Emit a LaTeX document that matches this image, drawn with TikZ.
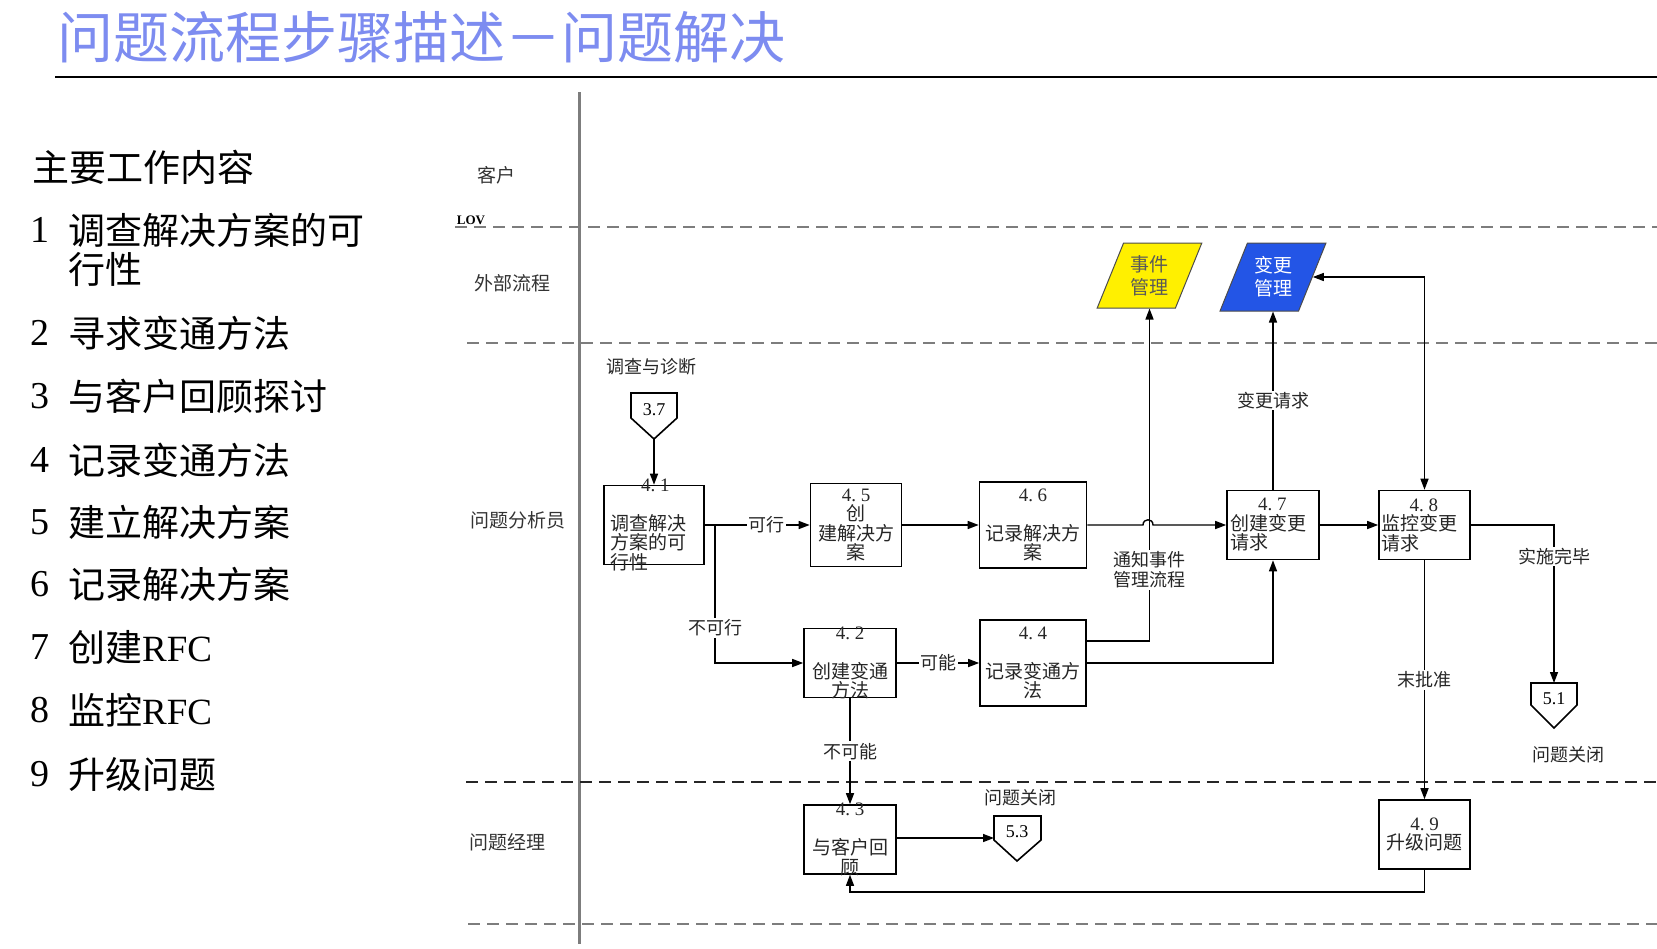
\documentclass[tikz,border=0pt]{standalone}
\usepackage{fontspec}
\usepackage{tikz}
\usetikzlibrary{shapes, arrows.meta, positioning, calc}
\newfontfamily\cjk{Noto Sans CJK SC}
\newfontfamily\numfont{Liberation Serif}
\newcommand{\stepno}[1]{{\numfont #1}}
\definecolor{titleblue}{RGB}{125,140,240}
\definecolor{evyellow}{RGB}{255,240,0}
\definecolor{chgblue}{RGB}{35,85,230}
\definecolor{lanegray}{RGB}{125,125,125}

\begin{document}
\begin{tikzpicture}[x=1pt, y=-1pt,
  stepbox/.style={draw, line width=1.6pt, inner sep=0pt},
  boxtxt/.style={font=\cjk\fontsize{19}{19.5}\selectfont, text=black!85, inner sep=0pt},
  lbl/.style={fill=white, inner sep=1.5pt, text=black!85, font=\cjk\fontsize{18}{20}\selectfont},
  lanelbl/.style={font=\cjk\fontsize{19}{20}\selectfont, text=black!80, inner sep=0pt},
  lanesep/.style={lanegray, line width=2pt, dash pattern=on 12pt off 7pt},
  flow/.style={line width=1.4pt, -{Triangle[length=11pt, width=8pt]}},
  offpg/.style={draw, line width=1.6pt},
  offtxt/.style={font=\numfont\fontsize{18}{18}\selectfont, inner sep=0pt},
  pgram/.style={trapezium, trapezium stretches=true, draw=black!70, line width=1pt,
    inner sep=0pt, align=center, font=\cjk\fontsize{19}{23}\selectfont},
  listitem/.style={anchor=west, inner sep=0pt, font=\cjk\fontsize{37}{39}\selectfont},
  listno/.style={anchor=west, inner sep=0pt, font=\numfont\fontsize{38}{39}\selectfont}
  ]
\useasboundingbox (0,0) rectangle (1657,948);

% title
\node[anchor=west, inner sep=0pt, text=titleblue, font=\cjk\fontsize{56}{60}\selectfont] (ttl) at (57,37) {问题流程步骤描述－问题解决};
\draw[line width=2pt] (55,77) -- (1657,77);

% left column
\node[listitem] (hd) at (32,167) {主要工作内容};
\node[listno] (n1) at (30,230) {1};
\node[listitem, align=left] (w1) at (68,249.5) {调查解决方案的可\\行性};
\foreach \y/\k/\t in {333/2/寻求变通方法, 396/3/与客户回顾探讨, 460/4/记录变通方法,
    522/5/建立解决方案, 584/6/记录解决方案, 647/7/创建{\numfont RFC},
    710/8/监控{\numfont RFC}, 774/9/升级问题}{
  \node[listno] (n\k) at (30,\y) {\k};
  \node[listitem] (w\k) at (68,\y) {\t};
}

% lanes
\draw[lanegray, line width=3pt] (579,92) -- (579,944);
\draw[lanesep] (455,227) -- (1657,227);
\draw[lanesep] (467,343) -- (1657,343);
\draw[lanesep, black!85] (466,782) -- (1657,782);
\draw[lanesep] (468,924) -- (1657,924);
\node[lanelbl] (l1) at (496,175) {客户};
\node[inner sep=0pt, font=\numfont\bfseries\fontsize{13}{13}\selectfont] (lov) at (471,220) {LOV};
\node[lanelbl] (l2) at (512,283) {外部流程};
\node[lanelbl] (l3) at (518,520) {问题分析员};
\node[lanelbl] (l4) at (507,842) {问题经理};

% external processes
\node[pgram, fill=evyellow, text=black!65, trapezium left angle=64.5, trapezium right angle=115.5,
  minimum width=105pt, minimum height=65pt] (evm) at (1149.5,275.5) {事件\\管理};
\node[pgram, fill=chgblue, text=white, trapezium left angle=63.4, trapezium right angle=116.6,
  minimum width=106pt, minimum height=68pt] (cgm) at (1273,277) {变更\\管理};

% steps
\node[stepbox, minimum width=100pt, minimum height=79pt] (b41) at (654,525) {};
\node[stepbox, minimum width=91pt, minimum height=83pt] (b45) at (856,525) {};
\node[stepbox, minimum width=107pt, minimum height=86pt] (b46) at (1033,525) {};
\node[stepbox, minimum width=92pt, minimum height=69pt] (b47) at (1273,525) {};
\node[stepbox, minimum width=91pt, minimum height=69pt] (b48) at (1424.5,525) {};
\node[stepbox, minimum width=92pt, minimum height=69pt] (b42) at (850,663) {};
\node[stepbox, minimum width=106pt, minimum height=86pt] (b44) at (1033,663) {};
\node[stepbox, minimum width=92pt, minimum height=69pt] (b43) at (850,839.5) {};
\node[stepbox, minimum width=91pt, minimum height=69pt] (b49) at (1424.5,834.5) {};

\node[boxtxt, align=left] (t41) at (648,525) {\hspace*{31pt}\stepno{4.\ 1}\\[19.5pt]调查解决\\方案的可\\行性};
\node[boxtxt, align=center] (t45) at (b45) {\stepno{4.\ 5}\\创\\建解决方\\案};
\node[boxtxt, align=center] (t46) at (b46) {\stepno{4.\ 6}\\[19.5pt]记录解决方\\案};
\node[boxtxt, align=left] (t47) at (1268,525) {\hspace*{28pt}\stepno{4.\ 7}\\创建变更\\请求};
\node[boxtxt, align=left] (t48) at (1419.5,525) {\hspace*{28pt}\stepno{4.\ 8}\\监控变更\\请求};
\node[boxtxt, align=center] (t42) at (b42) {\stepno{4.\ 2}\\[19.5pt]创建变通\\方法};
\node[boxtxt, align=center] (t44) at (b44) {\stepno{4.\ 4}\\[19.5pt]记录变通方\\法};
\node[boxtxt, align=center] (t43) at (b43) {\stepno{4.\ 3}\\[19.5pt]与客户回\\顾};
\node[boxtxt, align=center] (t49) at (b49) {\stepno{4.\ 9}\\升级问题};

% off-page connectors
\draw[offpg] (631,393) -- (677,393) -- (677,418) -- (654,439) -- (631,418) -- cycle;
\node[offtxt] (c37) at (654,410) {3.7};
\coordinate (c37tip) at (654,439);
\node[lbl, fill=none] (d37) at (651,367) {调查与诊断};
\draw[offpg] (994,816) -- (1041,816) -- (1041,840) -- (1017,861) -- (994,840) -- cycle;
\node[offtxt] (c53) at (1017,832) {5.3};
\coordinate (c53in) at (994,838);
\node[lbl, fill=none] (d53) at (1020,798) {问题关闭};
\draw[offpg] (1531,683) -- (1577,683) -- (1577,705) -- (1554,728) -- (1531,705) -- cycle;
\node[offtxt] (c51) at (1554,699) {5.1};
\coordinate (c51top) at (1554,683);
\node[lbl, fill=none] (d51) at (1568,755) {问题关闭};

% connectors
\draw[flow] (c37tip) -- (b41);
\draw[flow] (b41) -- node[lbl, pos=0.59] {可行} (b45);
\coordinate (j41) at (715,525);
\draw[flow] (j41) |- node[lbl, pos=0.373] {不可行} (b42);
\draw[flow] (b42) -- node[lbl] {可能} (b44);
\draw[flow] (b42) -- node[lbl] {不可能} (b43);
\draw[flow] (b43.east |- c53in) -- (c53in);
\draw[flow] (b45) -- (b46);
\draw[flow] (b46) -- (1143,525) .. controls (1143,518) and (1153,518) .. (1153,525) -- (b47);
\draw[flow] ($(b44.north east)!.25!(b44.south east)$) -| node[lbl, pos=0.607, align=center] {通知事件\\管理流程} (evm);
\draw[flow] (b44) -| (b47);
\draw[flow] (b47) -- node[lbl] {变更请求} (cgm);
\draw[flow] (b47) -- (b48);
\draw[line width=1.4pt, {Triangle[length=11pt, width=8pt]}-{Triangle[length=11pt, width=8pt]}] (cgm) -| (b48);
\draw[flow] (b48) -| node[lbl, pos=0.6] {实施完毕} (c51top);
\draw[flow] (b48) -- node[lbl] {末批准} (b49);
\draw[flow] (b49.south) -- ++(0,22) -| (b43);

\end{tikzpicture}
\end{document}
